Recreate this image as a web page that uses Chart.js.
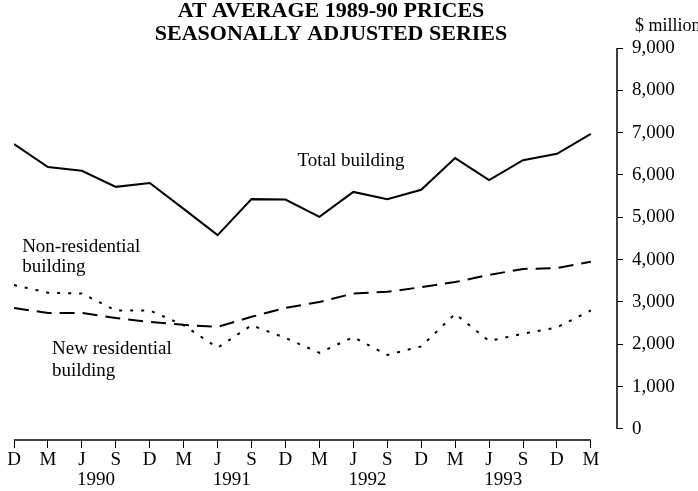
<!DOCTYPE html>
<html><head><meta charset="utf-8">
<script src="https://cdn.jsdelivr.net/npm/chart.js@4/dist/chart.umd.min.js"></script>
<style>html,body{margin:0;padding:0;background:#fff}#wrap{width:698px;height:491px}</style>
</head><body><div id="wrap"><canvas id="c" width="698" height="491"></canvas></div>
<script>
const quarters = ['D','M','J','S','D','M','J','S','D','M','J','S','D','M','J','S','D','M'];
const years = ['1990', '1991', '1992', '1993'];
const yearJuneIndex = [2, 6, 10, 14];
const totalBuilding = [6730,6190,6100,5720,5810,5200,4580,5430,5420,5010,5600,5430,5650,6400,5880,6350,6500,6970];
const nonResidential = [2860,2740,2740,2620,2530,2460,2410,2650,2860,3000,3200,3240,3350,3470,3640,3780,3800,3950];
const newResidential = [3400,3220,3200,2800,2800,2450,1920,2450,2150,1800,2170,1750,1950,2720,2080,2250,2400,2800];
const yTickValues = [0,1000,2000,3000,4000,5000,6000,7000,8000,9000];
const titleLines = ['AT AVERAGE 1989-90 PRICES', 'SEASONALLY ADJUSTED SERIES'];
const unitLabel = '$ million';

const SERIF = "'Liberation Serif', 'DejaVu Serif', serif";
const toPts = arr => arr.map((v, i) => ({x: i, y: v}));

const decor = {
  id: 'decor',
  afterDraw(chart) {
    const ctx = chart.ctx;
    const xs = chart.scales.x, ys = chart.scales.y;
    ctx.save();
    ctx.strokeStyle = '#000';
    ctx.lineWidth = 1.5;
    ctx.beginPath();
    ctx.moveTo(ys.left, ys.getPixelForValue(9000));
    ctx.lineTo(ys.left, ys.getPixelForValue(0));
    ctx.stroke();
    ctx.beginPath();
    ctx.moveTo(xs.getPixelForValue(0), xs.top);
    ctx.lineTo(xs.getPixelForValue(quarters.length - 1), xs.top);
    ctx.stroke();

    ctx.fillStyle = '#000';
    ctx.textBaseline = 'middle';
    ctx.font = "bold 22px " + SERIF;
    ctx.textAlign = 'center';
    ctx.fillText(titleLines[0], 331, 11);
    ctx.fillText(titleLines[1], 331, 34);
    ctx.font = "18px " + SERIF;
    ctx.textAlign = 'left';
    ctx.fillText(unitLabel, 635, 26);
    const P = (xv, yv) => [xs.getPixelForValue(xv), ys.getPixelForValue(yv)];
    ctx.font = "19px " + SERIF;
    ctx.textAlign = 'center';
    let p = P(9.93, 6330); ctx.fillText('Total building', p[0], p[1]);
    ctx.textAlign = 'left';
    p = P(0.24, 4300); ctx.fillText('Non-residential', p[0], p[1]);
    p = P(0.24, 3830); ctx.fillText('building', p[0], p[1]);
    p = P(1.12, 1880); ctx.fillText('New residential', p[0], p[1]);
    p = P(1.12, 1370); ctx.fillText('building', p[0], p[1]);
    ctx.restore();
  }
};

new Chart(document.getElementById('c'), {
  type: 'line',
  data: {
    datasets: [
      {label: 'Total building', data: toPts(totalBuilding), borderColor: '#000', borderWidth: 2, pointRadius: 0, tension: 0, fill: false},
      {label: 'Non-residential building', data: toPts(nonResidential), borderColor: '#000', borderWidth: 2, borderDash: [15, 8], pointRadius: 0, tension: 0, fill: false},
      {label: 'New residential building', data: toPts(newResidential), borderColor: '#000', borderWidth: 2, borderDash: [3, 8], pointRadius: 0, tension: 0, fill: false}
    ]
  },
  options: {
    responsive: false,
    animation: false,
    devicePixelRatio: 1,
    layout: {padding: {left: 14, top: 48, right: 0, bottom: 0}},
    plugins: {legend: {display: false}, title: {display: false}, tooltip: {enabled: false}},
    scales: {
      x: {
        type: 'linear', min: 0, max: 17.77, position: 'bottom',
        afterBuildTicks: s => { s.ticks = quarters.map((q, i) => ({value: i})); },
        afterFit: s => { s.height = 31; },
        ticks: {
          autoSkip: false, maxRotation: 0, padding: 3, color: '#000',
          font: {family: SERIF, size: 19, lineHeight: 1},
          callback: v => quarters[v]
        },
        grid: {display: true, drawOnChartArea: false, drawTicks: true, tickLength: 8, color: '#000', lineWidth: 1},
        border: {display: false}
      },
      x2: {
        type: 'linear', min: 0, max: 17.77, position: 'bottom',
        afterBuildTicks: s => { s.ticks = yearJuneIndex.map(i => ({value: i + 0.42})); },
        afterFit: s => { s.height = 20; },
        ticks: {
          autoSkip: false, maxRotation: 0, padding: 0, color: '#000',
          font: {family: SERIF, size: 19, lineHeight: 1},
          callback: (v, idx) => years[idx]
        },
        grid: {display: false, drawTicks: false},
        border: {display: false}
      },
      y: {
        position: 'right', min: -260, max: 9000,
        afterBuildTicks: s => { s.ticks = yTickValues.map(v => ({value: v})); },
        afterFit: s => { s.width = 81; },
        ticks: {
          padding: 9, color: '#000',
          font: {family: SERIF, size: 19},
          callback: v => v.toLocaleString('en-US')
        },
        grid: {display: true, drawOnChartArea: false, drawTicks: true, tickLength: 6, color: '#000', lineWidth: 1},
        border: {display: false}
      }
    }
  },
  plugins: [decor]
});
</script>
</body></html>
